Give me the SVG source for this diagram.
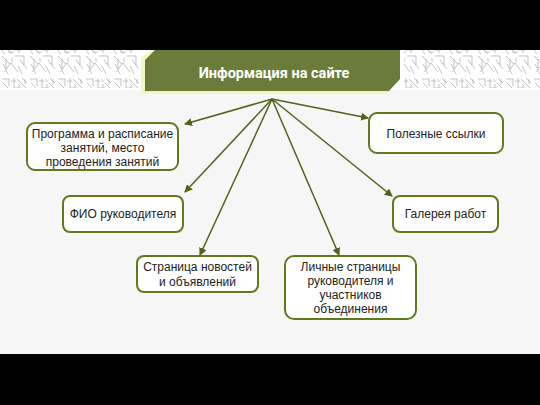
<svg xmlns="http://www.w3.org/2000/svg" width="540" height="405" viewBox="0 0 540 405">
<style>
.node rect{fill:#ffffff;stroke:#5e7a1c;stroke-width:2}
.node text{font-family:"Liberation Sans",Arial,sans-serif;font-size:12px;fill:#222;text-anchor:middle}
.conn line{stroke:#4f6419;stroke-width:1.5;marker-end:url(#ah)}
.orn path{fill:none;stroke:#a8a8a8;stroke-width:0.7}
</style>
<defs>
<marker id="ah" markerWidth="8" markerHeight="8" refX="7" refY="4" orient="auto" markerUnits="userSpaceOnUse">
<path d="M0,0 L8,4 L0,8 Z" fill="#4f6419"/>
</marker>
<pattern id="orn" width="28" height="38" patternUnits="userSpaceOnUse">
<g class="orn">
<path d="M2,3 L9,3 L9,10 M3,7 L12,16 M14,2 L14,12 L21,12 M17,3 L26,12 M22,2 L27,7 M2,18 L10,26 M4,34 L11,25 L18,34 M15,18 L24,18 L24,27 M20,22 L27,31 M2,12 L5,16 M11,5 L16,5 M6,21 L6,30 M12,20 L12,24 M18,28 L22,36 M25,3 L25,8 M3,26 L8,36 M19,8 L19,15 M8,14 L14,14"/>
</g>
</pattern>
</defs>
<rect x="0" y="0" width="540" height="405" fill="#f6f6f6"/>
<rect x="0" y="50" width="540" height="40" fill="#ffffff"/>
<rect x="0" y="50" width="142" height="38" fill="url(#orn)"/>
<rect x="404" y="50" width="136" height="38" fill="url(#orn)"/>
<rect x="0" y="0" width="540" height="50" fill="#000000"/>
<rect x="0" y="354" width="540" height="51" fill="#000000"/>
<g id="title">
<polygon points="141,58 151,50 396,50 396,80 386,94 141,94" fill="#f3f7c6"/>
<polygon points="145,60 155,50 400,50 400,79 389,91 145,91" fill="#6b7c3a"/>
<text x="274" y="78" font-family="Roboto,'Liberation Sans',Arial,sans-serif" font-size="14.5" font-weight="bold" fill="#ffffff" text-anchor="middle">Информация на сайте</text>
</g>
<g id="connectors" class="conn">
<line x1="272" y1="99" x2="185" y2="124"/>
<line x1="272" y1="99" x2="185" y2="192"/>
<line x1="272" y1="99" x2="200" y2="255"/>
<line x1="272" y1="99" x2="339" y2="255"/>
<line x1="272" y1="99" x2="368" y2="118"/>
<line x1="272" y1="99" x2="392" y2="196"/>
</g>
<g id="n1" class="node">
<rect x="27" y="123" width="151" height="47" rx="8"/>
<text x="102.5" y="138">Программа и расписание</text>
<text x="102.5" y="152">занятий, место</text>
<text x="102.5" y="166">проведения занятий</text>
</g>
<g id="n2" class="node">
<rect x="63" y="196" width="120" height="36" rx="7"/>
<text x="123" y="218">ФИО руководителя</text>
</g>
<g id="n3" class="node">
<rect x="137" y="256" width="121" height="36" rx="7"/>
<text x="197.5" y="271">Страница новостей</text>
<text x="197.5" y="286">и объявлений</text>
</g>
<g id="n4" class="node">
<rect x="285" y="256" width="131" height="63" rx="9"/>
<text x="350.5" y="271">Личные страницы</text>
<text x="350.5" y="285">руководителя и</text>
<text x="350.5" y="299">участников</text>
<text x="350.5" y="313">объединения</text>
</g>
<g id="n5" class="node">
<rect x="369" y="113" width="134" height="40" rx="8"/>
<text x="436" y="138">Полезные ссылки</text>
</g>
<g id="n6" class="node">
<rect x="393" y="196" width="105" height="36" rx="7"/>
<text x="445.5" y="218">Галерея работ</text>
</g>
</svg>
